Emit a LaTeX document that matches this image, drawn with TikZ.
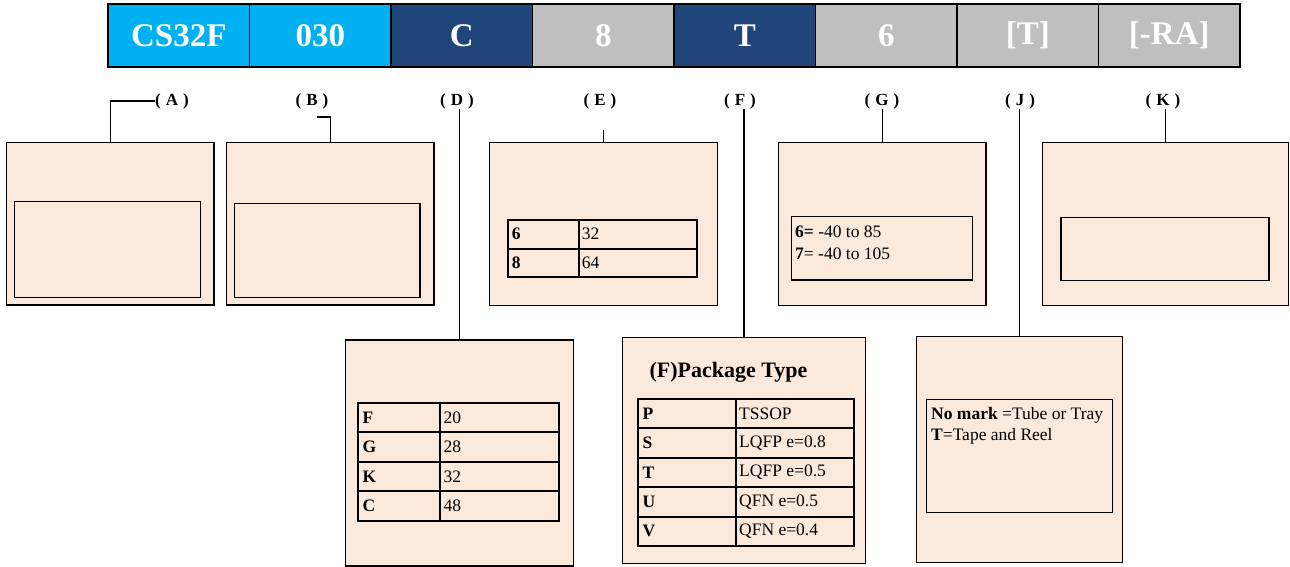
\documentclass[tikz,border=0pt]{standalone}
\usepackage{fontspec}
\setmainfont{Liberation Serif}
\definecolor{cyanc}{RGB}{0,176,240}
\definecolor{navyc}{RGB}{31,69,122}
\definecolor{grayc}{RGB}{191,191,191}
\definecolor{peach}{RGB}{251,233,219}
\newcommand{\prow}[7]{%
  \draw[tline] (#1,#2) rectangle (#3,#2+#5);
  \draw[tline] (#3,#2) rectangle (#4,#2+#5);
  \node[body, anchor=west, font=\fontsize{17.5}{21}\selectfont\bfseries] at (#1+3,#2+#5/2) {#6};
  \node[body, anchor=west] at (#3+2,#2+#5/2) {#7};
}
\begin{document}
\begin{tikzpicture}[x=1pt,y=-1pt,
  cell/.style={draw=black, line width=1.3pt, minimum width=141.5pt, minimum height=63pt, inner sep=0pt, text=white, font=\fontsize{33}{36}\selectfont\bfseries},
  outer/.style={draw=black, line width=1.2pt, fill=peach, inner sep=0pt},
  inbox/.style={draw=black, line width=1.2pt, inner sep=0pt},
  lab/.style={font=\fontsize{17}{19}\selectfont\bfseries, inner sep=0.5pt},
  conn/.style={line width=1.2pt},
  tline/.style={line width=2pt},
  body/.style={font=\fontsize{17.5}{21}\selectfont, inner sep=1pt}
]
\useasboundingbox (0,0) rectangle (1290,567);

% top bar
\node[cell, fill=cyanc] (c1) at (178.75,35.5) {CS32F};
\node[cell, fill=cyanc] (c2) at (320.25,35.5) {030};
\node[cell, fill=navyc] (c3) at (461.75,35.5) {C};
\node[cell, fill=grayc] (c4) at (603.25,35.5) {8};
\node[cell, fill=navyc] (c5) at (744.75,35.5) {T};
\node[cell, fill=grayc] (c6) at (886.25,35.5) {6};
\node[cell, fill=grayc] (c7) at (1027.75,35.5) {[T]};
\node[cell, fill=grayc] (c8) at (1169.25,35.5) {[-RA]};

% labels
\node[lab] (lA) at (172,101) {(\hspace{5pt}A\hspace{5pt})};
\node[lab] (lB) at (312,101) {(\hspace{5pt}B\hspace{5pt})};
\node[lab] (lD) at (457,101) {(\hspace{5pt}D\hspace{5pt})};
\node[lab] (lE) at (600,101) {(\hspace{5pt}E\hspace{5pt})};
\node[lab] (lF) at (740,101) {(\hspace{5pt}F\hspace{5pt})};
\node[lab] (lG) at (882,101) {(\hspace{5pt}G\hspace{5pt})};
\node[lab] (lJ) at (1020,101) {(\hspace{5pt}J\hspace{5pt})};
\node[lab] (lK) at (1163,101) {(\hspace{5pt}K\hspace{5pt})};

% top row boxes
\node[outer, minimum width=207.3pt, minimum height=162.3pt] (boxA) at (110.35,223.85) {};
\node[inbox, minimum width=186pt, minimum height=96pt] (inA) at (107.3,249.7) {};
\node[outer, minimum width=207.3pt, minimum height=162.3pt] (boxB) at (330.35,223.85) {};
\node[inbox, minimum width=185.7pt, minimum height=94pt] (inB) at (327.15,250.7) {};
\node[outer, minimum width=228pt, minimum height=163pt] (boxE) at (603.3,224.2) {};
\node[outer, minimum width=207.7pt, minimum height=163pt] (boxG) at (882.15,224.2) {};
\node[inbox, minimum width=181pt, minimum height=63.3pt] (inG) at (882.2,248.35) {};
\node[outer, minimum width=246.4pt, minimum height=163pt] (boxK) at (1165.5,224.2) {};
\node[inbox, minimum width=208pt, minimum height=63pt] (inK) at (1165,249.2) {};

% bottom row boxes
\node[outer, minimum width=227.6pt, minimum height=226pt] (boxD) at (459.5,453) {};
\node[outer, minimum width=243.4pt, minimum height=226pt] (boxF) at (744,450.3) {};
\node[outer, minimum width=206pt, minimum height=226pt] (boxJ) at (1019.7,449.7) {};
\node[inbox, minimum width=186pt, minimum height=113.4pt] (inJ) at (1019.7,456) {};

% connectors
\coordinate (bhook) at (316.7,117);
\coordinate (ehook) at (603.3,130);
\draw[conn] (boxA.north) |- (lA.west);
\draw[conn] (boxB.north) |- (bhook);
\draw[conn] (boxE.north) -- (ehook);
\draw[conn] (boxD.north) -- (boxD.north |- lD.south);
\draw[conn] (boxF.north) -- (boxF.north |- lF.south);
\draw[conn] (boxG.north) -- (boxG.north |- lG.south);
\draw[conn] (boxJ.north) -- (boxJ.north |- lJ.south);
\draw[conn] (boxK.north) -- (boxK.north |- lK.south);

% E table
\prow{507.7}{220}{578.7}{697.3}{28.5}{6}{32}
\prow{507.7}{248.5}{578.7}{697.3}{28.8}{8}{64}

% G text
\node[body, anchor=west] (g1) at (794,231.7) {\textbf{6=} -40 to 85};
\node[body, anchor=west] (g2) at (794,253.3) {\textbf{7}= -40 to 105};

% D table
\prow{358.3}{402.7}{440.3}{559}{29.5}{F}{20}
\prow{358.3}{432.2}{440.3}{559}{29.5}{G}{28}
\prow{358.3}{461.7}{440.3}{559}{29.6}{K}{32}
\prow{358.3}{491.3}{440.3}{559}{29.7}{C}{48}

% F box
\node[anchor=west, inner sep=1pt, font=\fontsize{22}{25}\selectfont\bfseries] (ftitle) at (648.3,372.7) {(F)Package Type};
\prow{638.3}{399}{736}{853.7}{29.3}{P}{TSSOP}
\prow{638.3}{428.3}{736}{853.7}{29.4}{S}{LQFP e=0.8}
\prow{638.3}{457.7}{736}{853.7}{29.6}{T}{LQFP e=0.5}
\prow{638.3}{487.3}{736}{853.7}{29.4}{U}{QFN e=0.5}
\prow{638.3}{516.7}{736}{853.7}{29.3}{V}{QFN e=0.4}

% J text
\node[body, anchor=west] (j1) at (930,415) {\textbf{No mark} =Tube or Tray};
\node[body, anchor=west] (j2) at (930,436.7) {\textbf{T}=Tape and Reel};
\end{tikzpicture}
\end{document}
